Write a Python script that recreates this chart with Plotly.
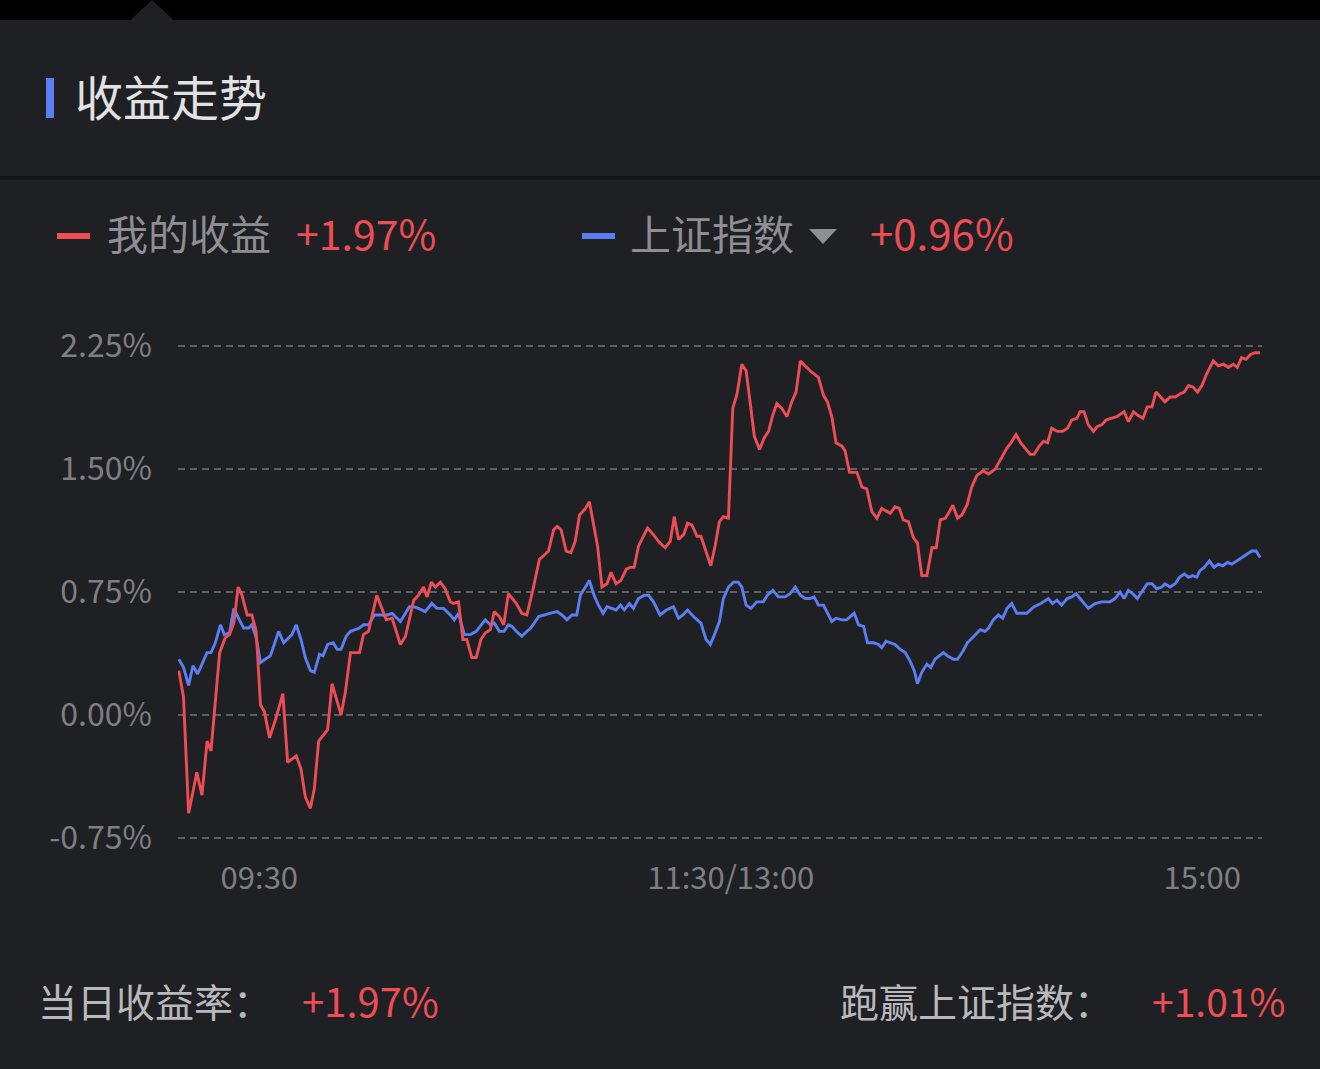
import plotly.graph_objects as go

# trading minutes since 09:30 (lunch break collapsed), and return in %
red_t = [-20.5, -19.3, -18.0, -15.9, -14.6, -13.3, -12.3, -10.1, -8.7, -7.6,
         -6.5, -5.4, -4.4, -3.1, -1.9, -0.8, 0.3, 1.3, 2.6, 4.1,
         6.0, 7.2, 9.4, 10.6, 11.7, 13.0, 14.0, 15.1, 17.4, 18.5,
         20.8, 21.9, 23.2, 25.5, 26.5, 27.8, 29.9, 32.3, 33.8, 35.9,
         37.2, 39.3, 40.5, 41.8, 42.7, 43.8, 44.8, 46.1, 47.3, 48.6,
         49.4, 50.7, 51.8, 52.8, 54.1, 55.2, 56.4, 57.5, 58.8, 59.8,
         61.1, 62.2, 63.4, 65.4, 66.8, 68.1, 69.6, 71.3, 72.3, 73.6,
         74.9, 75.8, 76.8, 78.1, 79.3, 80.4, 81.5, 83.0, 84.0, 86.1,
         87.2, 88.5, 89.5, 90.8, 92.0, 93.4, 94.4, 95.4, 96.5, 97.4,
         98.8, 100.3, 101.9, 103.3, 104.6, 105.6, 106.7, 108.0, 109.0, 110.1,
         111.4, 112.4, 113.7, 114.9, 116.0, 117.1, 118.1, 119.4, 120.5, 121.6,
         122.8, 123.9, 124.9, 126.0, 127.3, 128.5, 129.6, 130.7, 131.7, 133.0,
         134.3, 135.5, 136.6, 137.7, 138.9, 140.2, 142.3, 143.6, 144.6, 145.7,
         146.8, 148.3, 149.1, 150.2, 152.1, 153.4, 154.6, 155.9, 157.2, 158.4,
         160.6, 161.8, 162.9, 163.9, 165.2, 166.5, 167.5, 168.6, 169.9, 171.2,
         172.3, 173.3, 174.6, 175.4, 176.5, 177.7, 178.8, 180.1, 181.3, 182.6,
         184.2, 185.6, 187.3, 189.0, 190.3, 191.3, 192.6, 193.8, 194.9, 196.2,
         197.2, 198.5, 199.6, 200.6, 201.7, 203.1, 204.5, 205.7, 206.8, 208.1,
         208.9, 209.9, 211.0, 212.3, 213.3, 214.4, 215.5, 217.0, 218.2, 220.1,
         221.2, 222.5, 223.5, 224.9, 226.0, 227.2, 228.2, 229.4, 230.5, 231.8,
         233.1, 234.4, 235.4, 236.5, 237.7, 238.8, 239.9, 241.1, 242.8, 244.1,
         245.4, 246.6, 247.9, 248.9, 250.0, 251.1, 252.3, 253.4, 254.7]
red_v = [0.27, 0.11, -0.60, -0.35, -0.49, -0.16, -0.22, 0.38, 0.47, 0.49,
         0.56, 0.78, 0.73, 0.61, 0.61, 0.51, 0.06, 0.02, -0.14, -0.03,
         0.13, -0.29, -0.25, -0.33, -0.50, -0.57, -0.45, -0.16, -0.09, 0.19,
         0.00, 0.14, 0.38, 0.38, 0.49, 0.51, 0.73, 0.58, 0.59, 0.43,
         0.48, 0.70, 0.73, 0.78, 0.72, 0.81, 0.78, 0.81, 0.77, 0.69,
         0.68, 0.69, 0.46, 0.46, 0.35, 0.35, 0.46, 0.50, 0.52, 0.63,
         0.60, 0.55, 0.74, 0.68, 0.62, 0.61, 0.76, 0.95, 0.97, 1.00,
         1.13, 1.15, 1.13, 1.00, 0.99, 1.06, 1.22, 1.26, 1.30, 1.03,
         0.78, 0.80, 0.87, 0.80, 0.82, 0.89, 0.90, 0.90, 1.03, 1.07,
         1.14, 1.10, 1.05, 1.02, 1.06, 1.21, 1.07, 1.10, 1.17, 1.16,
         1.09, 1.09, 0.99, 0.91, 1.03, 1.18, 1.21, 1.20, 1.87, 1.96,
         2.14, 2.10, 1.91, 1.70, 1.62, 1.69, 1.73, 1.83, 1.90, 1.87,
         1.82, 1.91, 1.97, 2.16, 2.13, 2.10, 2.06, 1.95, 1.91, 1.82,
         1.66, 1.64, 1.61, 1.48, 1.48, 1.39, 1.38, 1.24, 1.20, 1.26,
         1.23, 1.27, 1.26, 1.19, 1.18, 1.08, 1.05, 0.85, 0.85, 1.02,
         1.02, 1.19, 1.20, 1.23, 1.28, 1.20, 1.22, 1.28, 1.39, 1.46,
         1.49, 1.47, 1.50, 1.57, 1.63, 1.66, 1.71, 1.66, 1.63, 1.59,
         1.59, 1.64, 1.67, 1.66, 1.75, 1.73, 1.73, 1.75, 1.80, 1.81,
         1.85, 1.85, 1.77, 1.73, 1.76, 1.77, 1.80, 1.81, 1.82, 1.85,
         1.79, 1.85, 1.83, 1.81, 1.88, 1.88, 1.97, 1.94, 1.91, 1.94,
         1.94, 1.96, 1.97, 2.01, 2.00, 1.97, 2.01, 2.08, 2.16, 2.13,
         2.14, 2.12, 2.14, 2.12, 2.18, 2.17, 2.20, 2.21, 2.21]

blue_t = [-20.5, -19.3, -18.0, -16.9, -15.7, -13.3, -12.3, -11.2, -9.9, -8.9,
          -7.6, -6.5, -5.3, -4.0, -2.7, -1.9, -0.8, 0.3, 1.5, 2.8,
          3.8, 4.9, 6.2, 7.5, 8.3, 9.4, 10.6, 11.7, 13.0, 14.0,
          15.3, 16.2, 17.4, 18.8, 19.8, 20.8, 22.1, 23.2, 24.4, 25.5,
          26.5, 27.8, 29.3, 30.4, 31.6, 32.6, 33.8, 35.9, 38.2, 39.3,
          40.5, 42.2, 43.9, 45.2, 46.9, 48.6, 49.6, 50.7, 52.2, 53.7,
          55.2, 56.4, 57.5, 58.8, 59.8, 61.1, 62.3, 63.4, 64.3, 65.4,
          66.8, 68.1, 69.1, 71.1, 72.3, 73.9, 75.8, 77.0, 78.3, 79.6,
          80.8, 81.7, 83.0, 84.0, 85.2, 86.3, 87.5, 88.5, 89.7, 90.8,
          91.9, 92.9, 94.2, 95.2, 96.5, 98.0, 99.1, 100.3, 102.0, 103.6,
          105.4, 106.7, 107.8, 109.0, 110.5, 112.4, 113.7, 114.8, 116.0, 117.1,
          118.1, 119.4, 120.7, 121.9, 122.8, 123.9, 125.1, 126.6, 128.3, 129.3,
          130.7, 132.1, 133.8, 135.1, 136.4, 137.7, 138.9, 140.2, 141.2, 142.3,
          143.6, 144.4, 145.7, 146.8, 148.3, 149.5, 151.4, 152.5, 153.8, 154.8,
          156.3, 157.6, 158.4, 159.5, 160.6, 161.8, 163.1, 164.4, 165.6, 166.7,
          167.5, 168.6, 169.9, 170.9, 172.0, 173.1, 174.1, 175.2, 176.7, 177.7,
          179.1, 180.2, 181.8, 183.5, 184.7, 185.6, 186.8, 188.1, 189.2, 190.3,
          191.5, 192.8, 195.3, 197.2, 198.9, 200.8, 201.9, 203.0, 204.2, 205.6,
          206.8, 207.9, 208.9, 211.0, 212.7, 214.4, 216.5, 217.8, 219.1, 220.1,
          221.2, 222.3, 223.5, 224.6, 226.0, 227.2, 228.4, 229.7, 230.5, 231.8,
          233.1, 234.2, 235.4, 236.5, 237.6, 238.6, 239.4, 240.5, 241.8, 243.0,
          244.1, 245.2, 246.4, 247.5, 248.8, 250.0, 251.3, 252.6, 253.7, 254.7]
blue_v = [0.34, 0.29, 0.18, 0.30, 0.25, 0.38, 0.38, 0.44, 0.55, 0.49,
          0.50, 0.65, 0.59, 0.53, 0.53, 0.55, 0.47, 0.32, 0.34, 0.36,
          0.43, 0.51, 0.44, 0.47, 0.49, 0.55, 0.46, 0.35, 0.27, 0.26,
          0.37, 0.36, 0.43, 0.44, 0.40, 0.40, 0.48, 0.51, 0.52, 0.53,
          0.55, 0.55, 0.61, 0.61, 0.61, 0.61, 0.62, 0.57, 0.66, 0.66,
          0.65, 0.63, 0.68, 0.65, 0.65, 0.61, 0.58, 0.62, 0.49, 0.49,
          0.51, 0.55, 0.58, 0.55, 0.56, 0.51, 0.51, 0.55, 0.54, 0.51,
          0.48, 0.51, 0.53, 0.60, 0.61, 0.62, 0.63, 0.61, 0.58, 0.61,
          0.61, 0.73, 0.78, 0.82, 0.73, 0.67, 0.62, 0.66, 0.65, 0.64,
          0.67, 0.64, 0.68, 0.65, 0.71, 0.73, 0.73, 0.69, 0.61, 0.64,
          0.66, 0.59, 0.61, 0.64, 0.60, 0.56, 0.46, 0.43, 0.50, 0.57,
          0.71, 0.78, 0.81, 0.81, 0.78, 0.67, 0.65, 0.69, 0.69, 0.73,
          0.76, 0.72, 0.72, 0.74, 0.78, 0.73, 0.71, 0.71, 0.72, 0.67,
          0.67, 0.63, 0.57, 0.59, 0.58, 0.58, 0.62, 0.55, 0.54, 0.44,
          0.44, 0.43, 0.41, 0.45, 0.44, 0.43, 0.40, 0.38, 0.33, 0.27,
          0.19, 0.26, 0.31, 0.29, 0.34, 0.36, 0.38, 0.36, 0.34, 0.34,
          0.39, 0.44, 0.48, 0.52, 0.51, 0.53, 0.58, 0.61, 0.59, 0.65,
          0.68, 0.62, 0.62, 0.66, 0.68, 0.71, 0.68, 0.70, 0.67, 0.71,
          0.72, 0.74, 0.71, 0.65, 0.68, 0.69, 0.69, 0.71, 0.75, 0.71,
          0.76, 0.74, 0.71, 0.75, 0.80, 0.80, 0.77, 0.78, 0.80, 0.78,
          0.80, 0.84, 0.86, 0.84, 0.85, 0.84, 0.88, 0.90, 0.94, 0.90,
          0.92, 0.91, 0.93, 0.92, 0.94, 0.96, 0.98, 1.00, 1.00, 0.96]

x_tickvals = [0, 120, 240]
x_ticktext = ['09:30', '11:30/13:00', '15:00']
y_tickvals = [-0.75, 0, 0.75, 1.5, 2.25]
y_ticktext = ['-0.75%', '0.00%', '0.75%', '1.50%', '2.25%']

RED = '#ee4d55'
BLUE = '#5b7ef2'
BG = '#1f2024'
FONT = 'Noto Sans CJK SC'

# page geometry (pixels) -> paper coords helpers
W_PX, H_PX = 1320, 1069
L, R, T, B = 178, 58, 338, 223
PW, PH = W_PX - L - R, H_PX - T - B


def fx(px):
    return (px - L) / PW


def fy(py):
    return (H_PX - B - py) / PH


fig = go.Figure()
fig.add_trace(go.Scatter(x=blue_t, y=blue_v, mode='lines',
                         line=dict(color=BLUE, width=2.9), hoverinfo='skip'))
fig.add_trace(go.Scatter(x=red_t, y=red_v, mode='lines',
                         line=dict(color=RED, width=2.9), hoverinfo='skip'))

shapes = [
    # black strip at the top with the little notch
    dict(type='rect', xref='paper', yref='paper', x0=fx(0), x1=fx(W_PX),
         y0=fy(0), y1=fy(20), fillcolor='#000000', line_width=0, layer='below'),
    dict(type='path', xref='paper', yref='paper',
         path=f'M {fx(130)},{fy(20.5)} L {fx(152)},{fy(0)} L {fx(174)},{fy(20.5)} Z',
         fillcolor=BG, line_width=0, layer='below'),
    # divider under the title
    dict(type='rect', xref='paper', yref='paper', x0=fx(0), x1=fx(W_PX),
         y0=fy(176), y1=fy(179.5), fillcolor='#121316', line_width=0, layer='below'),
    # title accent bar
    dict(type='rect', xref='paper', yref='paper', x0=fx(46), x1=fx(54),
         y0=fy(78), y1=fy(118), fillcolor=BLUE, line_width=0),
    # legend markers
    dict(type='line', xref='paper', yref='paper', x0=fx(57), x1=fx(90),
         y0=fy(236), y1=fy(236), line=dict(color=RED, width=6)),
    dict(type='line', xref='paper', yref='paper', x0=fx(582), x1=fx(615),
         y0=fy(236), y1=fy(236), line=dict(color=BLUE, width=6)),
    dict(type='path', xref='paper', yref='paper',
         path=f'M {fx(809)},{fy(229)} L {fx(837)},{fy(229)} L {fx(823)},{fy(244)} Z',
         fillcolor='#8e8e94', line_width=0),
]


def label(text, px, py, size, color, anchor='left'):
    return dict(text=text, x=fx(px), y=fy(py), xref='paper', yref='paper',
                xanchor=anchor, yanchor='middle', showarrow=False,
                font=dict(family=FONT, size=size, color=color))


annotations = [
    label('收益走势', 73, 95, 48, '#e2e2e4'),
    label('我的收益', 105, 232, 41, '#8e8e94'),
    label('+1.97%', 294, 232, 41, RED),
    label('上证指数', 628, 232, 41, '#8e8e94'),
    label('+0.96%', 868, 232, 42, RED),
    label('当日收益率：', 36, 1000, 39, '#b9b9bd'),
    label('+1.97%', 300, 1000, 40, RED),
    label('跑赢上证指数：', 838, 1000, 39, '#b9b9bd'),
    label('+1.01%', 1150, 1000, 39, RED),
]

fig.update_layout(
    width=W_PX, height=H_PX,
    margin=dict(l=L, r=R, t=T, b=B),
    paper_bgcolor=BG, plot_bgcolor=BG,
    showlegend=False,
    shapes=shapes,
    annotations=annotations,
    font=dict(family=FONT),
)
fig.update_xaxes(range=[-20.7, 255.2], showgrid=False, zeroline=False,
                 showline=False, ticks='', tickvals=x_tickvals,
                 ticktext=x_ticktext, ticklabelstandoff=11,
                 tickfont=dict(family=FONT, size=31, color='#7e7f85'))
fig.update_yaxes(range=[-0.8, 2.3], showgrid=True, gridcolor='#5e5f63',
                 gridwidth=2, griddash='7px,5px', zeroline=False,
                 showline=False, ticks='', tickvals=y_tickvals,
                 ticktext=y_ticktext, ticklabelstandoff=25,
                 tickfont=dict(family=FONT, size=32, color='#7e7f85'))

# drop the default page margin so the figure fills the window
fig.write_html('out.html', config={'displayModeBar': False},
               post_script="document.body.style.margin='0';"
                           "document.body.style.background='#1f2024';")
